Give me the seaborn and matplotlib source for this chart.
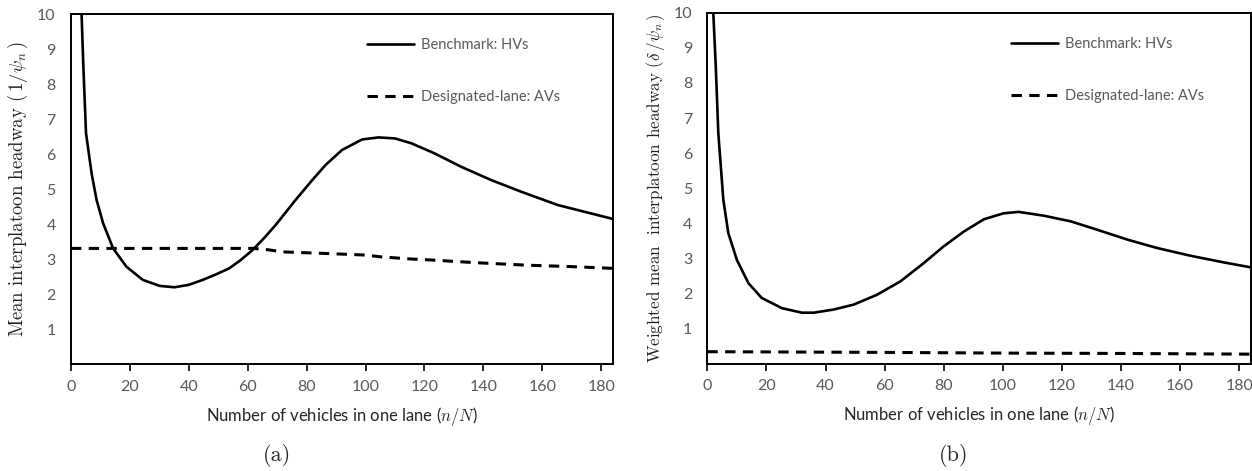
import matplotlib
matplotlib.use("Agg")
import matplotlib.pyplot as plt
import seaborn as sns
import pandas as pd

# ---- data ----
hv_a_x = [3.6, 4.2, 5.1, 7.0, 8.7, 10.9, 14.3, 18.8, 24.4, 30.1, 35.1, 40.0, 44.7, 49.0, 53.7,
          57.5, 61.6, 65.5, 69.5, 76.2, 81.9, 86.4, 92.0, 98.8, 104.4, 110.0, 115.6, 123.5,
          132.5, 142.7, 152.8, 165.2, 176.5, 184.0]
hv_a_y = [10.0, 8.5, 6.6, 5.45, 4.69, 4.03, 3.31, 2.79, 2.41, 2.24, 2.20, 2.27, 2.41, 2.56, 2.74,
          2.97, 3.26, 3.60, 3.98, 4.69, 5.26, 5.69, 6.12, 6.42, 6.48, 6.45, 6.31, 6.02,
          5.64, 5.26, 4.93, 4.55, 4.31, 4.15]
av_a_x = [0, 20, 40, 62, 67, 72, 85, 100, 105, 115, 122, 138, 155, 170, 184]
av_a_y = [3.31, 3.31, 3.31, 3.31, 3.27, 3.21, 3.17, 3.12, 3.07, 3.01, 2.98, 2.90, 2.83, 2.79, 2.74]

hv_b_x = [2.0, 2.85, 3.7, 5.4, 7.1, 10.0, 13.9, 18.4, 25.2, 32.0, 36.0, 42.7, 49.5, 57.4,
          65.3, 73.2, 80.0, 86.8, 93.6, 100.3, 105.4, 114.0, 123.0, 132.0, 142.2, 152.3,
          163.6, 174.9, 184.0]
hv_b_y = [10.0, 8.46, 6.57, 4.67, 3.72, 2.96, 2.30, 1.88, 1.59, 1.46, 1.46, 1.55, 1.69, 1.97,
          2.35, 2.87, 3.35, 3.77, 4.12, 4.29, 4.33, 4.22, 4.06, 3.82, 3.54, 3.30,
          3.08, 2.89, 2.75]
av_b_x = [0, 60, 100, 140, 184]
av_b_y = [0.35, 0.33, 0.31, 0.30, 0.28]

x_ticks = [0, 20, 40, 60, 80, 100, 120, 140, 160, 180]
y_ticks = [1, 2, 3, 4, 5, 6, 7, 8, 9, 10]
label_hv = "Benchmark: HVs"
label_av = "Designated-lane: AVs"
xlabel = r"Number of vehicles in one lane ($\mathit{n/N}$)"
ylabel_a = r"Mean interplatoon headway $(\,1/\psi_n\,)$"
ylabel_b = r"Weighted mean  interplatoon headway $(\delta\,/\psi_n\,)$"
panel_tags = ["(a)", "(b)"]

sns.set_theme(style="white")
plt.rcParams["font.family"] = ["Lato", "DejaVu Sans"]
plt.rcParams["mathtext.fontset"] = "cm"
plt.rcParams["axes.unicode_minus"] = False

GREY = "#595959"

fig = plt.figure(figsize=(12.52, 4.71), dpi=100)
ax_a = fig.add_axes([0.0567, 0.2265, 0.4329, 0.7435])
ax_b = fig.add_axes([0.5650, 0.2272, 0.4342, 0.7458])

panels = [
    (ax_a, hv_a_x, hv_a_y, av_a_x, av_a_y, ylabel_a, 13.5, 0.546),
    (ax_b, hv_b_x, hv_b_y, av_b_x, av_b_y, ylabel_b, 12.3, 0.559),
]

for i, (ax, hx, hy, axx, ayy, ylab, ysize, legx) in enumerate(panels):
    df_hv = pd.DataFrame({"x": hx, "y": hy})
    df_av = pd.DataFrame({"x": axx, "y": ayy})
    sns.lineplot(data=df_hv, x="x", y="y", ax=ax, color="black", linewidth=1.9,
                 label=label_hv, sort=True, estimator=None)
    sns.lineplot(data=df_av, x="x", y="y", ax=ax, color="black", linewidth=2.2,
                 linestyle=(0, (3.4, 2.4)), label=label_av, sort=True, estimator=None)
    ax.set_xlim(0, 184)
    ax.set_ylim(0, 10)
    ax.set_xticks(x_ticks)
    ax.set_yticks(y_ticks)
    ax.tick_params(axis="x", which="major", direction="out", length=5, width=1.2,
                   color="black", labelsize=11.5, labelcolor=GREY, pad=6, bottom=True)
    ax.tick_params(axis="y", which="major", length=0, labelsize=11.5, labelcolor=GREY, pad=11)
    for sp in ax.spines.values():
        sp.set_visible(True)
        sp.set_color("black")
        sp.set_linewidth(1.4)
    ax.set_xlabel(xlabel, fontsize=12, color="#262626", labelpad=8)
    ax.set_ylabel(ylab, fontsize=ysize, family="cmr10", color="#222222", labelpad=5)
    leg = ax.legend(loc="upper left", bbox_to_anchor=(legx, 0.931), frameon=False,
                    fontsize=10.5, handlelength=3.2, handletextpad=0.5,
                    labelspacing=2.6, borderpad=0, borderaxespad=0)
    for t in leg.get_texts():
        t.set_color(GREY)
    ax.grid(False)

fig.text(0.2215, 0.032, panel_tags[0], family="cmr10", fontsize=16, ha="center", va="center")
fig.text(0.7615, 0.032, panel_tags[1], family="cmr10", fontsize=16, ha="center", va="center")

fig.savefig("out.png", dpi=100, facecolor="white")
